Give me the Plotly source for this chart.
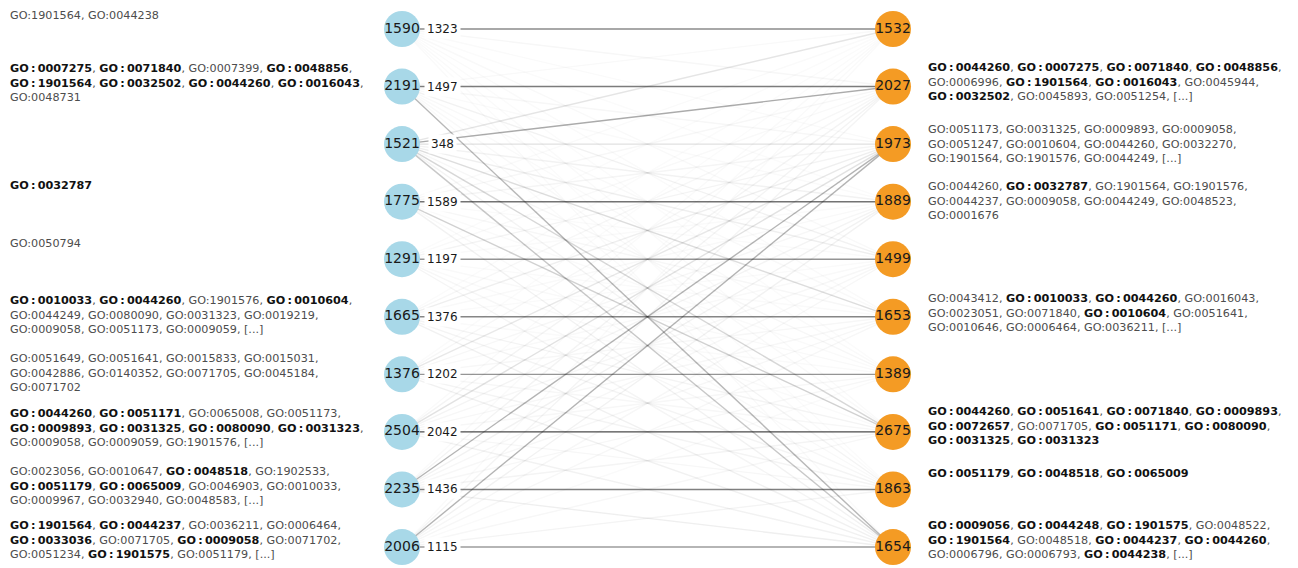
import plotly.graph_objects as go

# ---------------- data ----------------
left_nodes = [1590, 2191, 1521, 1775, 1291, 1665, 1376, 2504, 2235, 2006]
right_nodes = [1532, 2027, 1973, 1889, 1499, 1653, 1389, 2675, 1863, 1654]

# edge weights (row = left node, column = right node); diagonal values are the printed labels
weights = [
    [1323, 90, 60, 50, 70, 60, 50, 60, 50, 55],
    [70, 1497, 90, 60, 150, 70, 60, 70, 60, 800],
    [300, 950, 348, 150, 180, 380, 90, 450, 120, 620],
    [60, 90, 110, 1589, 60, 90, 60, 520, 70, 150],
    [50, 70, 120, 60, 1197, 60, 70, 60, 90, 110],
    [50, 90, 180, 70, 60, 1376, 60, 120, 130, 160],
    [50, 90, 260, 90, 70, 90, 1202, 90, 120, 160],
    [60, 120, 330, 120, 90, 90, 90, 2042, 90, 150],
    [60, 120, 850, 150, 90, 90, 90, 120, 1436, 180],
    [60, 120, 850, 150, 90, 90, 60, 90, 120, 1115],
]

# GO terms ("*" = shared / bold), and whether the list was truncated
left_terms = [
    ["GO:1901564", "GO:0044238"],
    ["*GO:0007275", "*GO:0071840", "GO:0007399", "*GO:0048856", "*GO:1901564",
     "*GO:0032502", "*GO:0044260", "*GO:0016043", "GO:0048731"],
    [],
    ["*GO:0032787"],
    ["GO:0050794"],
    ["*GO:0010033", "*GO:0044260", "GO:1901576", "*GO:0010604", "GO:0044249",
     "GO:0080090", "GO:0031323", "GO:0019219", "GO:0009058", "GO:0051173", "GO:0009059"],
    ["GO:0051649", "GO:0051641", "GO:0015833", "GO:0015031", "GO:0042886",
     "GO:0140352", "GO:0071705", "GO:0045184", "GO:0071702"],
    ["*GO:0044260", "*GO:0051171", "GO:0065008", "GO:0051173", "*GO:0009893",
     "*GO:0031325", "*GO:0080090", "*GO:0031323", "GO:0009058", "GO:0009059", "GO:1901576"],
    ["GO:0023056", "GO:0010647", "*GO:0048518", "GO:1902533", "*GO:0051179",
     "*GO:0065009", "GO:0046903", "GO:0010033", "GO:0009967", "GO:0032940", "GO:0048583"],
    ["*GO:1901564", "*GO:0044237", "GO:0036211", "GO:0006464", "*GO:0033036",
     "GO:0071705", "*GO:0009058", "GO:0071702", "GO:0051234", "*GO:1901575", "GO:0051179"],
]
left_truncated = [False, False, False, False, False, True, False, True, True, True]

right_terms = [
    [],
    ["*GO:0044260", "*GO:0007275", "*GO:0071840", "*GO:0048856", "GO:0006996",
     "*GO:1901564", "*GO:0016043", "GO:0045944", "*GO:0032502", "GO:0045893", "GO:0051254"],
    ["GO:0051173", "GO:0031325", "GO:0009893", "GO:0009058", "GO:0051247",
     "GO:0010604", "GO:0044260", "GO:0032270", "GO:1901564", "GO:1901576", "GO:0044249"],
    ["GO:0044260", "*GO:0032787", "GO:1901564", "GO:1901576", "GO:0044237",
     "GO:0009058", "GO:0044249", "GO:0048523", "GO:0001676"],
    [],
    ["GO:0043412", "*GO:0010033", "*GO:0044260", "GO:0016043", "GO:0023051",
     "GO:0071840", "*GO:0010604", "GO:0051641", "GO:0010646", "GO:0006464", "GO:0036211"],
    [],
    ["*GO:0044260", "*GO:0051641", "*GO:0071840", "*GO:0009893", "*GO:0072657",
     "GO:0071705", "*GO:0051171", "*GO:0080090", "*GO:0031325", "*GO:0031323"],
    ["*GO:0051179", "*GO:0048518", "*GO:0065009"],
    ["*GO:0009056", "*GO:0044248", "*GO:1901575", "GO:0048522", "*GO:1901564",
     "GO:0048518", "*GO:0044237", "*GO:0044260", "GO:0006796", "GO:0006793", "*GO:0044238"],
]
right_truncated = [False, True, True, False, False, True, False, False, False, True]

# ---------------- styling / layout helpers ----------------
W, H = 1298, 568
OFF = 8                    # page body margin of the browser
LX, RX = 402 - OFF, 893 - OFF   # pixel x of the two node columns (in figure space)
Y0, DY = 29 - OFF, 57.56        # pixel y of first row and row spacing
n = len(left_nodes)

x_range = [-LX / (RX - LX), (W - LX) / (RX - LX)]
y_range = [(H - Y0) / DY, -Y0 / DY]

FONT = "DejaVu Sans"
BLUE = "#A8D8E8"
ORANGE = "#F49B24"
NORMAL_C = "#4d4d4d"
BOLD_C = "#111111"
TXT_SIZE = 11.2

wmax = max(max(r) for r in weights)

fig = go.Figure()

# edges, light first so strong ones are on top
edges = [(weights[i][j], i, j) for i in range(n) for j in range(n)]
edges.sort()
for w, i, j in edges:
    a = 0.8 * w / wmax
    fig.add_trace(go.Scatter(
        x=[0, 1], y=[i, j], mode="lines",
        line=dict(color=f"rgba(30,30,30,{a:.3f})", width=1.4),
        hoverinfo="skip", showlegend=False))

# nodes
fig.add_trace(go.Scatter(
    x=[0] * n, y=list(range(n)), mode="markers+text",
    marker=dict(size=36, color=BLUE, line=dict(width=0)),
    text=[str(v) for v in left_nodes], textposition="middle center",
    textfont=dict(family=FONT, size=14, color="#1a1a1a"),
    hoverinfo="skip", showlegend=False))
fig.add_trace(go.Scatter(
    x=[1] * n, y=list(range(n)), mode="markers+text",
    marker=dict(size=36, color=ORANGE, line=dict(width=0)),
    text=[str(v) for v in right_nodes], textposition="middle center",
    textfont=dict(family=FONT, size=14, color="#1a1a1a"),
    hoverinfo="skip", showlegend=False))

# edge weight labels on the matching (i -> i) edges
for i in range(n):
    fig.add_annotation(
        x=0.0815, y=i, xref="x", yref="y", text=str(weights[i][i]),
        showarrow=False, bgcolor="white", borderpad=2,
        font=dict(family=FONT, size=12, color="#1a1a1a"))


def fmt(term):
    if term.startswith("*"):
        t = term[1:].replace(":", "\u2009:\u2009")
        return f"<b><span style='color:{BOLD_C}'>{t}</span></b>"
    return f"<span style='color:{NORMAL_C}'>{term}</span>"


def block(terms, truncated, per_line=4):
    items = [fmt(t) for t in terms]
    if truncated:
        items.append(f"<span style='color:{NORMAL_C}'>[...]</span>")
    lines = []
    for k in range(0, len(items), per_line):
        chunk = items[k:k + per_line]
        s = ", ".join(chunk)
        if k + per_line < len(items):
            s += ","
        lines.append(s)
    return "<br>".join(lines)


# vertical shift (px) of each text block relative to its node
left_shift = [14, 4, 0, 16, 16, 2, 1, 4, 3, 7]
right_shift = [0, 5, 0, 1, 0, 4, 0, 6, 16, 7]

for i in range(n):
    if left_terms[i]:
        fig.add_annotation(
            x=(8 - OFF) / W, xref="paper", y=i, yref="y", yshift=left_shift[i],
            xanchor="left", yanchor="middle", align="left", showarrow=False,
            text=block(left_terms[i], left_truncated[i]),
            font=dict(family=FONT, size=TXT_SIZE, color=NORMAL_C))
    if right_terms[i]:
        fig.add_annotation(
            x=(926 - OFF) / W, xref="paper", y=i, yref="y", yshift=right_shift[i],
            xanchor="left", yanchor="middle", align="left", showarrow=False,
            text=block(right_terms[i], right_truncated[i]),
            font=dict(family=FONT, size=TXT_SIZE, color=NORMAL_C))

fig.update_layout(
    width=W, height=H, margin=dict(l=0, r=0, t=0, b=0),
    paper_bgcolor="white", plot_bgcolor="white",
    xaxis=dict(range=x_range, visible=False, fixedrange=True),
    yaxis=dict(range=y_range, visible=False, fixedrange=True),
    showlegend=False,
)

fig.write_html("out.html")
